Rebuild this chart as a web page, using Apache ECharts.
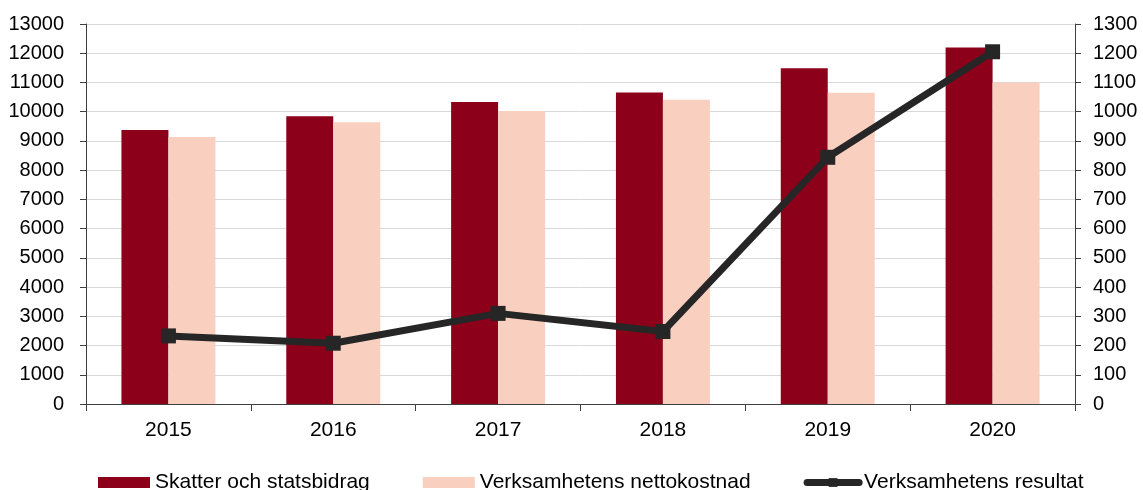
<!DOCTYPE html>
<html>
<head>
<meta charset="utf-8">
<script src="https://cdn.jsdelivr.net/npm/echarts@6/dist/echarts.min.js"></script>
<style>
  html, body { margin: 0; padding: 0; background: #fff; }
  #chart { width: 1143px; height: 490px; }
</style>
</head>
<body>
<div id="chart"></div>
<script>
// Years on the category axis
const years = ['2015', '2016', '2017', '2018', '2019', '2020'];
// Tax revenue and state grants (left axis)
const skatter = [9370, 9840, 10330, 10660, 11490, 12200];
// Net cost of operations (left axis)
const nettokostnad = [9130, 9640, 10020, 10410, 10650, 11000];
// Operating result (right axis)
const resultat = [233, 208, 310, 248, 844, 1205];

const seriesNames = ['Skatter och statsbidrag', 'Verksamhetens nettokostnad', 'Verksamhetens resultat'];

const font = 'Liberation Sans, Arial, sans-serif';
const axisColor = '#404040';
const plain = v => String(v);

const chart = echarts.init(document.getElementById('chart'), null, { renderer: 'canvas' });

chart.setOption({
  animation: false,
  textStyle: { fontFamily: font },
  grid: { left: 86, right: 68, top: 24, bottom: 86, containLabel: false },
  legend: {
    left: 93,
    top: 467,
    itemWidth: 52,
    itemHeight: 11,
    itemGap: 53,
    textStyle: { fontFamily: font, fontSize: 21, color: '#000' },
    data: [
      { name: seriesNames[0], icon: 'rect' },
      { name: seriesNames[1], icon: 'rect' },
      { name: seriesNames[2], lineStyle: { width: 7, cap: 'round' }, itemStyle: { color: '#262626' } }
    ]
  },
  xAxis: {
    type: 'category',
    data: years,
    axisLine: { lineStyle: { color: axisColor, width: 1 } },
    axisTick: { show: true, length: 7, lineStyle: { color: axisColor } },
    axisLabel: { fontFamily: font, fontSize: 21, color: '#000', margin: 16 },
    splitLine: { show: false }
  },
  yAxis: [
    {
      type: 'value',
      min: 0, max: 13000, interval: 1000,
      position: 'left',
      axisLine: { show: true, lineStyle: { color: axisColor, width: 1 } },
      axisTick: { show: true, length: 6, lineStyle: { color: axisColor } },
      axisLabel: { fontFamily: font, fontSize: 20, color: '#000', margin: 22, formatter: plain },
      splitLine: { show: true, lineStyle: { color: '#d9d9d9', width: 1 } }
    },
    {
      type: 'value',
      min: 0, max: 1300, interval: 100,
      position: 'right',
      axisLine: { show: true, lineStyle: { color: axisColor, width: 1 } },
      axisTick: { show: true, length: 6, lineStyle: { color: axisColor } },
      axisLabel: { fontFamily: font, fontSize: 20, color: '#000', margin: 18, formatter: plain },
      splitLine: { show: false }
    }
  ],
  series: [
    {
      name: seriesNames[0],
      type: 'bar',
      yAxisIndex: 0,
      data: skatter,
      barGap: '0%',
      barCategoryGap: '43%',
      itemStyle: { color: '#8c001a' }
    },
    {
      name: seriesNames[1],
      type: 'bar',
      yAxisIndex: 0,
      data: nettokostnad,
      barGap: '0%',
      barCategoryGap: '43%',
      itemStyle: { color: '#f9cfbf' }
    },
    {
      name: seriesNames[2],
      type: 'line',
      yAxisIndex: 1,
      data: resultat,
      z: 5,
      symbol: 'rect',
      symbolSize: 15,
      showSymbol: true,
      lineStyle: { color: '#262626', width: 7 },
      itemStyle: { color: '#262626' }
    }
  ]
});
</script>
</body>
</html>
